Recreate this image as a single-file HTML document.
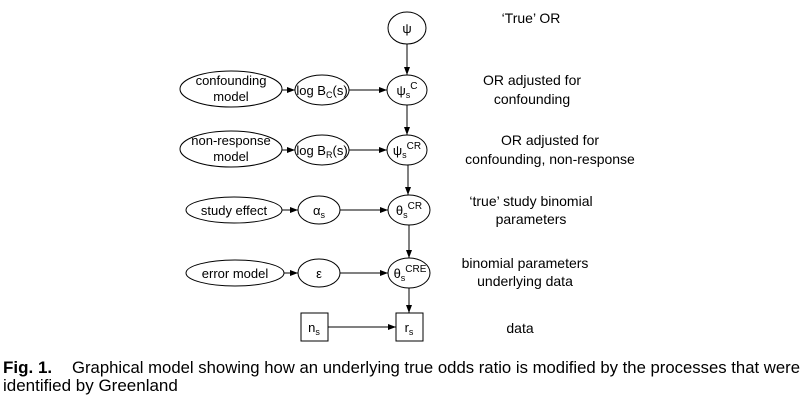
<!DOCTYPE html>
<html><head><style>body{margin:0;background:#fff}svg{display:block}</style></head>
<body>
<svg width="804" height="401" viewBox="0 0 804 401" xmlns="http://www.w3.org/2000/svg" font-family="Liberation Sans, sans-serif">
<defs><marker id="a" markerWidth="8" markerHeight="6" refX="8" refY="3" orient="auto" markerUnits="userSpaceOnUse"><path d="M0,0 L8,3 L0,6z" fill="#000"/></marker></defs>
<g fill="none" stroke="#000" stroke-width="1">
<ellipse cx="407" cy="28" rx="19" ry="16"/>
<ellipse cx="407" cy="90" rx="20" ry="15"/>
<ellipse cx="407" cy="150" rx="20" ry="15"/>
<ellipse cx="409" cy="210" rx="21" ry="15"/>
<ellipse cx="409" cy="273" rx="21" ry="15"/>
<ellipse cx="231" cy="89" rx="51" ry="18"/>
<ellipse cx="322" cy="90" rx="27" ry="15"/>
<ellipse cx="231" cy="149" rx="51" ry="18"/>
<ellipse cx="322" cy="150" rx="27" ry="15"/>
<ellipse cx="234" cy="210" rx="48" ry="13"/>
<ellipse cx="319" cy="210" rx="21" ry="14"/>
<ellipse cx="235" cy="273" rx="49" ry="13"/>
<ellipse cx="319" cy="273" rx="21" ry="14"/>
<rect x="301" y="313" width="27" height="28"/>
<rect x="396" y="313" width="27" height="28"/>
<line x1="407" y1="44" x2="407" y2="75" marker-end="url(#a)"/>
<line x1="407" y1="105" x2="407" y2="135" marker-end="url(#a)"/>
<line x1="408" y1="165" x2="408" y2="195" marker-end="url(#a)"/>
<line x1="409" y1="225" x2="409" y2="258" marker-end="url(#a)"/>
<line x1="409" y1="288" x2="409" y2="313" marker-end="url(#a)"/>
<line x1="282" y1="90" x2="295" y2="90" marker-end="url(#a)"/>
<line x1="349" y1="90" x2="387" y2="90" marker-end="url(#a)"/>
<line x1="282" y1="150" x2="295" y2="150" marker-end="url(#a)"/>
<line x1="349" y1="150" x2="387" y2="150" marker-end="url(#a)"/>
<line x1="282" y1="210" x2="298" y2="210" marker-end="url(#a)"/>
<line x1="340" y1="210" x2="388" y2="210" marker-end="url(#a)"/>
<line x1="284" y1="273" x2="298" y2="273" marker-end="url(#a)"/>
<line x1="340" y1="273" x2="388" y2="273" marker-end="url(#a)"/>
<line x1="328" y1="327" x2="396" y2="327" marker-end="url(#a)"/>
</g>
<g font-size="13" fill="#000" text-anchor="middle">
<text x="407" y="33">ψ</text>
<text x="231" y="85">confounding</text><text x="231" y="101">model</text>
<text x="322" y="95">log B<tspan font-size="9" dy="3">C</tspan><tspan dy="-3">(s)</tspan></text>
<text x="407" y="95">ψ<tspan font-size="9" dy="3">s</tspan><tspan font-size="10" dy="-9">C</tspan></text>
<text x="231" y="145">non-response</text><text x="231" y="161">model</text>
<text x="322" y="155">log B<tspan font-size="9" dy="3">R</tspan><tspan dy="-3">(s)</tspan></text>
<text x="407" y="155">ψ<tspan font-size="9" dy="3">s</tspan><tspan font-size="10" dy="-9">CR</tspan></text>
<text x="234" y="215">study effect</text>
<text x="319" y="215">α<tspan font-size="9" dy="3">s</tspan></text>
<text x="409" y="215">θ<tspan font-size="9" dy="3">s</tspan><tspan font-size="10" dy="-9">CR</tspan></text>
<text x="235" y="278">error model</text>
<text x="319" y="278">ε</text>
<text x="410" y="278">θ<tspan font-size="9" dy="3">s</tspan><tspan font-size="10" dy="-9">CRE</tspan></text>
<text x="314" y="332">n<tspan font-size="9" dy="3">s</tspan></text>
<text x="409" y="332">r<tspan font-size="9" dy="3">s</tspan></text>
</g>
<g font-size="14" fill="#000" text-anchor="middle">
<text x="531" y="23">‘True’ OR</text>
<text x="532" y="85">OR adjusted for</text><text x="532" y="104">confounding</text>
<text x="550" y="145">OR adjusted for</text><text x="550" y="164">confounding, non-response</text>
<text x="531" y="206">‘true’ study binomial</text><text x="531" y="224">parameters</text>
<text x="525" y="268">binomial parameters</text><text x="525" y="286">underlying data</text>
<text x="520" y="333">data</text>
</g>
<g font-size="17" fill="#000">
<text x="3" y="373" font-weight="bold">Fig. 1.</text>
<text x="72" y="373" textLength="728" lengthAdjust="spacingAndGlyphs">Graphical model showing how an underlying true odds ratio is modified by the processes that were</text>
<text x="3" y="391">identified by Greenland</text>
</g>
</svg>
</body></html>
